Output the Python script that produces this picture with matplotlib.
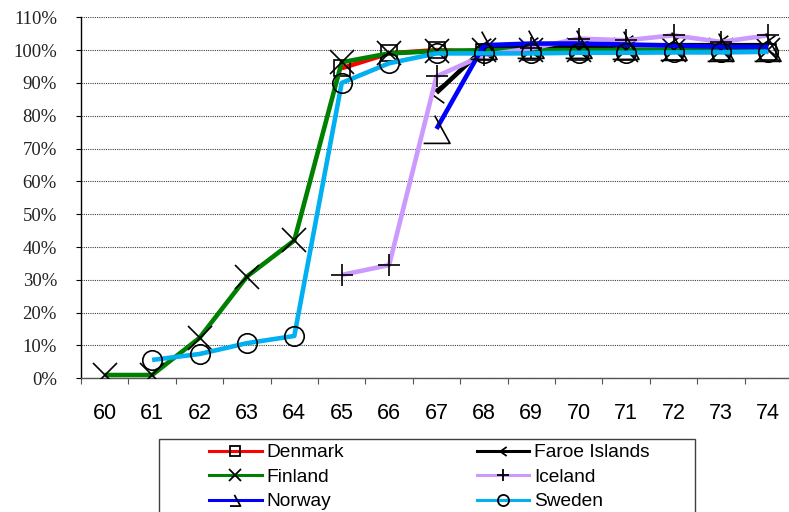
import numpy as np
import matplotlib
matplotlib.use("Agg")
import matplotlib.pyplot as plt
from matplotlib.lines import Line2D
from matplotlib.patches import Rectangle

nan = np.nan

# Ages 60-74, share of population (%)
ages = ["60", "61", "62", "63", "64", "65", "66", "67", "68", "69", "70", "71", "72", "73", "74"]
denmark = [nan, nan, nan, nan, nan, 94.5, 99.0, 100.0, 99.5, 99.5, 99.5, 99.5, 99.5, 99.5, 99.5]
faroe = [nan, nan, nan, nan, nan, nan, nan, 87.0, 100.5, 101.0, 101.0, 101.5, 101.5, 101.5, 101.5]
finland = [1.0, 1.0, 12.3, 31.0, 42.0, 96.3, 99.0, 99.7, 100.0, 100.0, 100.0, 100.0, 100.0, 100.0, 100.0]
iceland = [nan, nan, nan, nan, nan, 31.5, 34.5, 92.0, 98.5, 100.5, 103.5, 103.0, 104.5, 102.5, 104.5]
norway = [nan, nan, nan, nan, nan, nan, nan, 76.0, 101.5, 102.0, 102.0, 101.7, 101.4, 101.0, 101.0]
sweden = [nan, 5.6, 7.4, 10.7, 12.9, 90.0, 96.0, 99.0, 99.0, 99.0, 99.2, 99.2, 99.3, 99.3, 99.5]

names = ["Denmark", "Faroe Islands", "Finland", "Iceland", "Norway", "Sweden"]
series = [denmark, faroe, finland, iceland, norway, sweden]
colors = ["#FF0000", "#000000", "#008000", "#CC99FF", "#0000FF", "#00B0F0"]

# open marker shapes
chevron = [(0.35, 0.5), (-0.35, 0.0), (0.35, -0.5)]
half_tri = [(-0.1, 0.5), (0.45, -0.5), (-0.5, -0.5)]
markers = ["s", chevron, "x", "+", half_tri, "o"]
msizes = [11, 14, 17, 16, 20, 14]
leg_sizes = [7, 6.5, 8, 8, 8, 8]

W, H = 789, 512
fig = plt.figure(figsize=(W / 100, H / 100), dpi=100)
fig.patch.set_facecolor("white")

left, right, top, bottom = 81, 792, 17.3, 378.3
ax = fig.add_axes([left / W, 1 - bottom / H, (right - left) / W, (bottom - top) / H])

x = np.arange(len(ages))
for i, (name, vals, c, m, ms) in enumerate(zip(names, series, colors, markers, msizes)):
    ax.plot(x, vals, color=c, lw=3.3, marker=m, ms=ms, mfc="none", mec="black",
            mew=1.2, zorder=3 + i, solid_joinstyle="round", solid_capstyle="butt")

ax.set_xlim(-0.5, len(ages) - 0.5)
ax.set_ylim(0, 110)

ax.set_yticks(np.arange(0, 111, 10))
ax.set_yticklabels([f"{v}%" for v in range(0, 111, 10)], family="Liberation Serif",
                   fontsize=13.5, color="#222222")
ax.tick_params(axis="y", direction="out", length=3.8, width=0.8, pad=13.5, color="black")

ax.set_xticks(x)
ax.set_xticklabels(ages, family="Liberation Sans", fontsize=15.5)
ax.tick_params(axis="x", which="major", length=0, pad=18)
ax.set_xticks(np.arange(-0.5, len(ages)), minor=True)
ax.tick_params(axis="x", which="minor", direction="out", length=4.3, width=0.8, color="#555555")

ax.grid(axis="y", color="#404040", linestyle=(0, (1, 1)), linewidth=0.8, zorder=0)
ax.set_axisbelow(True)
for s in ("top", "right"):
    ax.spines[s].set_visible(False)
ax.spines["left"].set_linewidth(1.0)
ax.spines["bottom"].set_linewidth(1.0)
ax.spines["bottom"].set_color("#555555")

# legend, row-major order in two columns
handles = []
for name, c, m, ms in zip(names, colors, markers, leg_sizes):
    handles.append(Line2D([], [], color=c, lw=2.2, marker=m, ms=ms, mfc="none",
                          mec="black", mew=1.3, label=name))
order = [0, 2, 4, 1, 3, 5]
leg = fig.legend([handles[k] for k in order], [names[k] for k in order], ncol=2,
                 loc="upper left", bbox_to_anchor=(209 / W, 1 - 444 / H),
                 frameon=False, borderpad=0, borderaxespad=0,
                 prop={"family": "Liberation Sans", "size": 13.8},
                 handlelength=2.76, handletextpad=0.25, columnspacing=6.9,
                 labelspacing=0.37)

fig.add_artist(Rectangle((159 / W, 1 - 520 / H), (695 - 159) / W, (520 - 439) / H,
                         transform=fig.transFigure, fill=False, lw=1.0,
                         edgecolor="#404040", clip_on=False))

fig.savefig("out.png", dpi=100)
